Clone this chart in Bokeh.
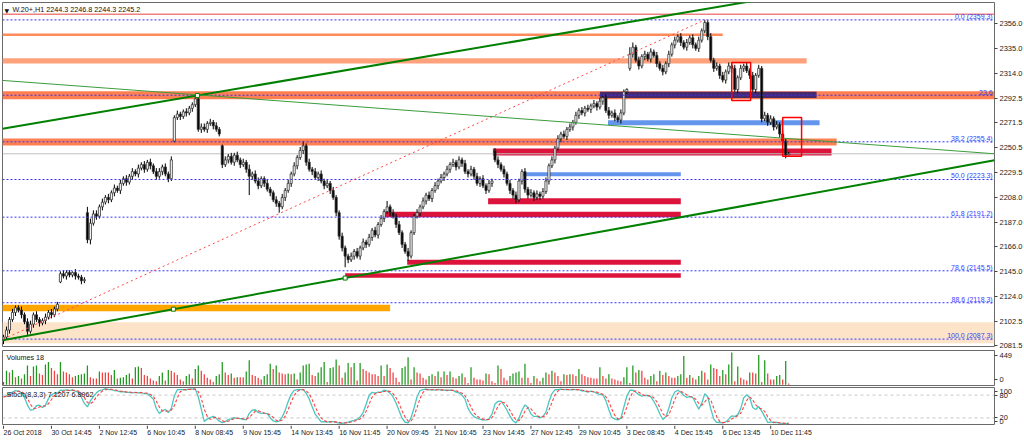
import numpy as np
from bokeh.plotting import figure
from bokeh.models import Range1d, FixedTicker, PrintfTickFormatter, Label, ColumnDataSource
from bokeh.layouts import column
from bokeh.embed import file_html
from bokeh.resources import INLINE
from bokeh.core.properties import value

# ------------------------------------------------------------------ data
# H1 closes, bar 0 = 26 Oct 2018
close = [
    2089, 2095, 2104, 2110, 2114, 2112, 2108, 2102, 2094, 2100,
    2108, 2104, 2101, 2103, 2106, 2110, 2108, 2113, 2117,
    2143, 2141, 2144, 2142, 2144, 2141, 2140, 2137, 2138,
    2172, 2186, 2194, 2192, 2200, 2204, 2208, 2206, 2212, 2216, 2214, 2220, 2224, 2221, 2226,
    2230, 2228, 2233, 2236, 2232, 2238, 2235, 2230, 2226, 2230, 2234, 2228, 2224, 2240,
    2276, 2279, 2277, 2281, 2280, 2284, 2287, 2292, 2266,
    2268, 2266, 2271, 2272, 2269, 2266, 2262, 2236,
    2240, 2243, 2238, 2244, 2240, 2236, 2238, 2232, 2226, 2228, 2222, 2218, 2224,
    2220, 2215, 2212, 2206, 2203, 2200, 2208, 2214, 2220, 2228, 2235, 2242, 2248, 2252,
    2238, 2232, 2230, 2225, 2228, 2222, 2218, 2220, 2214, 2208, 2195, 2175, 2165, 2158, 2155,
    2158, 2162, 2158, 2165, 2170, 2168, 2174, 2180, 2176, 2185, 2190, 2196, 2200, 2195, 2192,
    2185, 2178, 2168, 2162, 2158, 2178, 2192,
    2195, 2200, 2205, 2210, 2207, 2214, 2218, 2222, 2225, 2228, 2232, 2236, 2238, 2234, 2240,
    2237, 2230, 2228, 2232, 2226, 2220, 2224, 2218, 2214, 2220, 2222,
    2240, 2236, 2232, 2228, 2220, 2214, 2210, 2206, 2222, 2230, 2215, 2210, 2212, 2208, 2211,
    2209, 2213, 2222,
    2235, 2240, 2250, 2258, 2262, 2260, 2266, 2268, 2272, 2278, 2282, 2280, 2284, 2283, 2286,
    2288, 2285, 2290, 2293, 2282, 2278, 2280, 2276, 2274, 2280, 2298,
    2300, 2330, 2336, 2325, 2320, 2328, 2330, 2326, 2332, 2329, 2322, 2318, 2315, 2322, 2330,
    2338, 2342, 2345, 2340, 2336, 2340, 2344, 2338, 2335, 2342, 2350, 2357,
    2345, 2325, 2318, 2320, 2312, 2308, 2315, 2320, 2318, 2300, 2310, 2318, 2320, 2316, 2312,
    2300, 2312, 2318,
    2275, 2278, 2272, 2275, 2268, 2270, 2262, 2256, 2244.3, 2245.2,
]
first_open = 2086
gap_open = {19: 2136, 28: 2195, 57: 2256, 73: 2252, 164: 2248, 209: 2318}

up_wick = [
    2, 3, 2, 3, 2, 2, 3, 2, 3, 3,
    2, 3, 2, 2, 3, 2, 3, 2, 2,
    2, 3, 2, 2, 1, 3, 2, 2, 2,
    5, 4, 3, 3, 2, 3, 2, 3, 2, 3, 2, 3, 2, 3, 2, 3, 2, 3, 2, 3, 2, 3, 2, 3, 3, 2, 3, 2, 3,
    2,
    3, 2, 2, 3, 2, 2, 2.7,
    1,
    3, 3, 2, 3, 2, 3, 2,
    1,
    3, 2, 3, 2, 3, 2, 3, 2, 4, 2, 3, 3, 2,
    2, 3, 2, 2, 3, 2, 3, 2, 3, 2, 3, 2, 3, 4,
    2, 3, 2, 3, 2, 3, 2, 3, 2, 3, 2, 2, 3, 2, 2,
    3, 2, 3, 2, 3, 2, 3, 2, 3, 2, 3, 2, 5, 2, 3, 2, 3, 2, 2, 3, 2, 2,
    3, 2, 3, 2, 3, 2, 3, 2, 3, 2, 3, 2, 3, 2, 3, 2, 3, 2, 3, 2, 3, 2, 3, 2, 3, 2,
    2, 3, 2, 3, 2, 3, 2, 3, 2, 2, 3, 2, 3, 2, 3, 2, 3, 3,
    2, 3, 2, 3, 2, 3, 2, 3, 2, 3, 2, 3, 2, 3, 2, 3, 2, 3, 2, 3, 3, 2, 3, 2, 3, 2,
    1, 6, 4, 2, 3, 2, 3, 2, 3, 2, 3, 2, 3, 2, 3, 2, 3, 2, 3, 2, 3, 2, 3, 2, 3, 2, 2.3,
    2, 3, 2, 3, 2, 3, 2, 3, 2, 3, 2, 3, 2, 3, 2, 3, 2, 3,
    2, 3, 2, 3, 2, 3, 2, 3, 2, 1.6,
]
down_wick = [
    3, 2, 3, 2, 3, 2, 3, 2, 3, 2,
    3, 2, 3, 2, 3, 2, 3, 2, 2,
    1, 2, 3, 2, 2, 3, 2, 3, 2,
    3, 4, 2, 3, 2, 3, 2, 3, 2, 3, 2, 3, 2, 3, 2, 3, 2, 3, 2, 3, 2, 3, 2, 3, 2, 3, 2, 3, 2,
    1,
    2, 3, 2, 3, 2, 3, 2,
    2,
    3, 2, 3, 2, 3, 2, 2,
    3,
    2, 3, 2, 3, 2, 3, 2, 3, 16, 3, 2, 3, 2,
    3, 2, 3, 2, 3, 5, 2, 3, 2, 3, 2, 3, 2, 3,
    3, 2, 3, 2, 3, 2, 3, 2, 3, 2, 3, 3, 3, 9.5, 3,
    2, 3, 2, 3, 2, 3, 2, 3, 2, 3, 2, 3, 2, 3, 2, 3, 2, 3, 2, 4, 2, 2,
    2, 3, 2, 3, 2, 3, 2, 3, 2, 3, 2, 3, 2, 3, 2, 3, 2, 3, 2, 3, 2, 3, 2, 3, 2, 3,
    2, 3, 2, 3, 2, 3, 3, 3, 2, 3, 3, 3, 2, 3, 2, 3, 2, 2,
    3, 2, 3, 2, 3, 2, 3, 2, 3, 2, 3, 2, 3, 2, 3, 2, 3, 2, 3, 2, 3, 2, 3, 2, 3, 2,
    2, 2, 3, 2, 3, 2, 3, 2, 3, 2, 3, 2, 3, 2, 3, 2, 3, 2, 3, 2, 3, 2, 3, 2, 3, 2, 2,
    3, 2, 3, 2, 3, 2, 3, 2, 4, 2, 3, 2, 3, 2, 3, 2, 3, 2,
    3, 2, 3, 2, 3, 2, 3, 2, 3, 0,
]

volume = [
    39, 195, 171, 205, 107, 122, 88, 146, 268, 122,
    254, 268, 156, 137, 283, 317, 234, 195, 146, 317,
    185, 171, 146, 107, 122, 137, 146, 156, 268, 107,
    88, 88, 185, 171, 171, 171, 137, 205, 88, 98,
    107, 137, 156, 88, 244, 254, 234, 137, 122, 88,
    59, 49, 122, 171, 59, 205, 195, 171, 137, 73,
    49, 122, 146, 88, 220, 268, 195, 146, 98, 73,
    39, 122, 146, 317, 171, 137, 156, 98, 107, 107,
    107, 185, 342, 137, 122, 98, 73, 122, 146, 293,
    220, 268, 171, 156, 146, 156, 146, 156, 73, 171,
    268, 283, 293, 137, 122, 171, 244, 317, 39, 234,
    244, 351, 268,
    98, 171, 303, 244, 303, 59, 303, 220, 195, 171,
    146, 146, 122, 268, 122, 283, 234, 171, 98, 39,
    234, 254, 381, 73, 244, 171, 156, 98, 73, 122,
    146, 122, 185, 107, 185, 137, 185, 107, 88, 122,
    156, 107, 24, 244, 98, 73, 73, 59, 156, 146,
    49, 24, 268, 220, 98, 59, 122, 156, 171, 185,
    98, 293, 98, 24, 122, 88, 49, 98, 171, 146,
    195, 171, 122, 49, 146, 137, 146, 146, 122, 220,
    146, 122, 107, 98, 88, 88, 244, 122, 88, 146,
    88, 73, 59, 49, 107, 244, 24, 268, 171, 205,
    195, 98, 73, 122, 146, 49, 195, 137, 171, 122,
    98, 98, 122, 146,
    400, 98, 137, 98, 73, 122, 195, 171, 73, 283,
    234, 220, 122, 205, 146, 283, 449, 49, 254, 98,
    73, 59, 171, 171, 156, 415, 39, 342, 156, 73,
    73, 122, 137, 73, 332, 18,
]

time_tick_bars = [0, 16, 32, 48, 64, 80, 96, 112, 128, 144, 160, 176, 192, 208, 224, 240, 256]
time_tick_labels = ["26 Oct 2018", "30 Oct 14:45", "2 Nov 12:45", "6 Nov 10:45", "8 Nov 08:45",
                    "9 Nov 15:45", "14 Nov 13:45", "16 Nov 11:45", "20 Nov 09:45", "21 Nov 16:45",
                    "23 Nov 14:45", "27 Nov 12:45", "29 Nov 10:45", "3 Dec 08:45", "4 Dec 15:45",
                    "6 Dec 13:45", "10 Dec 11:45"]
price_ticks = [2081.5, 2102.5, 2124.0, 2145.0, 2166.0, 2187.0, 2208.0, 2229.5, 2250.5,
               2271.5, 2292.5, 2314.0, 2335.0, 2356.0]
fib_levels = [2359.3, 2295.1, 2255.4, 2223.3, 2191.2, 2145.5, 2118.3, 2087.3]
fib_texts = ["0.0 (2359.3)", "23.6", "38.2 (2255.4)", "50.0 (2223.3)", "61.8 (2191.2)",
             "78.6 (2145.5)", "88.6 (2118.3)", "100.0 (2087.3)"]
last_price = 2245.2
top_line_price = 2364.0

X_MIN, X_MAX = -0.33, 330.67
# zones: left bar, right bar, low price, high price
zone_x0 = [X_MIN, X_MIN, X_MIN, X_MIN, X_MIN, 199.0, 201.7, X_MIN, 163.3, 173.0, 161.7, 127.3, 134.7, 114.0]
zone_x1 = [X_MAX, 129.0, 240.0, 268.0, X_MAX, 271.3, 272.3, 278.0, 276.3, 226.0, 226.0, 226.0, 226.0, 226.0]
zone_lo = [2083.8, 2111.0, 2345.6, 2322.2, 2291.6, 2292.8, 2269.5, 2252.3, 2243.8, 2226.0, 2202.1, 2191.1, 2150.6, 2139.6]
zone_hi = [2101.7, 2116.6, 2347.7, 2326.5, 2298.4, 2298.0, 2273.7, 2258.3, 2249.8, 2229.4, 2207.3, 2195.8, 2154.9, 2143.4]
zone_colors = ["#fde4c8", "#ffa500", "#ff8a5c", "#ffa27c", "#ff7f50", "#482a6b", "#6495ed", "#ff7f50",
               "#dc143c", "#6495ed", "#dc143c", "#dc143c", "#dc143c", "#dc143c"]

# trend lines (bar, price)
trend_x0 = [X_MIN, X_MIN, X_MIN]
trend_y0 = [2266.6, 2307.7, 2086.4]
trend_x1 = [250.0, X_MAX, X_MAX]
trend_y1 = [2375.4, 2245.2, 2239.6]
trend_width = [2, 1, 2]
trend_color = ["#008000", "#3c9c3c", "#008000"]
anchor_x = [56.7, 114.0, 64.7]
anchor_y = [2112.8, 2139.3, 2294.9]
fib_ray = ([0, 234], [2087.3, 2359.3])

rect_x0 = [243.0, 260.0]
rect_x1 = [249.3, 266.3]
rect_lo = [2290.7, 2243.0]
rect_hi = [2323.0, 2276.2]

# ------------------------------------------------------------------ derived
n = min(len(close), len(up_wick), len(down_wick), len(volume))
close = close[:n]
opens = []
for i in range(n):
    if i == 0:
        opens.append(first_open)
    else:
        opens.append(gap_open.get(i, close[i - 1]))
highs = [max(opens[i], close[i]) + up_wick[i] for i in range(n)]
lows = [min(opens[i], close[i]) - down_wick[i] for i in range(n)]
idx = list(range(n))

H = np.array(highs); L = np.array(lows); C = np.array(close)
ll = np.array([L[max(0, i - 7):i + 1].min() for i in range(n)])
hh = np.array([H[max(0, i - 7):i + 1].max() for i in range(n)])
num = C - ll
den = hh - ll
st_main = np.array([100 * num[max(0, i - 2):i + 1].sum() / max(den[max(0, i - 2):i + 1].sum(), 1e-9) for i in range(n)])
st_sig = np.array([st_main[max(0, i - 2):i + 1].mean() for i in range(n)])

FONT = value("Liberation Sans")
FW = 992
xr = Range1d(X_MIN, X_MAX)
OUT = "#6a6a6a"


def style_axis(ax):
    ax.major_label_text_font = "Liberation Sans"
    ax.major_label_text_font_size = "7.5px"
    ax.major_label_text_color = "#222222"
    ax.major_tick_out = 3
    ax.major_tick_in = 0
    ax.major_tick_line_color = "#444444"
    ax.minor_tick_line_color = None
    ax.axis_line_color = None
    ax.major_label_standoff = 2


def base_fig(h, yr, bt, bb):
    f = figure(frame_width=FW, frame_height=h, x_range=xr, y_range=yr,
               output_backend="svg", toolbar_location=None,
               x_axis_location=None, y_axis_location="right",
               min_border_left=2, min_border_right=0, min_border_top=bt, min_border_bottom=bb)
    f.grid.visible = False
    f.outline_line_color = OUT
    f.outline_line_width = 1
    f.background_fill_color = "white"
    f.border_fill_color = "white"
    return f


# ------------------------------------------------------------------ main price panel
main = base_fig(344, Range1d(2081.0, 2374.1), 2, 4)
ya = main.yaxis[0]
ya.ticker = FixedTicker(ticks=price_ticks)
ya.formatter = PrintfTickFormatter(format="%.1f")
style_axis(ya)

main.quad(left=zone_x0, right=zone_x1, bottom=zone_lo, top=zone_hi, fill_color=zone_colors,
          line_color=None)
main.segment(x0=[X_MIN], x1=[X_MAX], y0=[top_line_price], y1=[top_line_price], line_color="#f08080",
             line_width=1.5)
main.segment(x0=[X_MIN], x1=[X_MAX], y0=[last_price], y1=[last_price], line_color="#c0c0c0", line_width=1)

src = ColumnDataSource(dict(
    x=idx, h=highs, l=lows,
    top=[max(opens[i], close[i]) for i in range(n)],
    bottom=[min(opens[i], close[i]) for i in range(n)],
    fill=["white" if close[i] >= opens[i] else "black" for i in range(n)],
))
main.segment(x0="x", x1="x", y0="h", y1="l", source=src, line_color="black", line_width=1)
main.vbar(x="x", width=0.7, top="top", bottom="bottom", fill_color="fill", line_color="#303030",
          line_width=0.8, source=src)

main.segment(x0=[X_MIN] * len(fib_levels), x1=[X_MAX] * len(fib_levels), y0=fib_levels, y1=fib_levels,
             line_color="#3434ff", line_dash="2 2", line_width=1)
main.line(x=fib_ray[0], y=fib_ray[1], line_color="#ff4a4a", line_dash="2 3", line_width=1)

main.segment(x0=trend_x0, y0=trend_y0, x1=trend_x1, y1=trend_y1, line_color=trend_color,
             line_width=trend_width)
main.scatter(x=anchor_x, y=anchor_y, marker="square", size=4, fill_color="white", line_color="#008000",
             line_width=1)

main.quad(left=rect_x0, right=rect_x1, bottom=rect_lo, top=rect_hi, fill_color=None,
          line_color="#ff0000", line_width=1.5)

main.text(x=[X_MAX - 0.6] * len(fib_levels), y=fib_levels, text=fib_texts, text_align="right",
          text_baseline="bottom", y_offset=0, text_font=FONT, text_font_size="7px",
          text_color="#3a3aff")

main.text(x=[0.3], y=[2374.1], text=["\u25bc"], text_baseline="top", y_offset=4, text_font=value("DejaVu Sans"),
          text_font_size="6px", text_color="#111111")
main.text(x=[3.0], y=[2374.1], text=["W.20+,H1  2244.3 2246.8 2244.3 2245.2"], text_baseline="top",
          y_offset=2, text_font=FONT, text_font_size="7.2px", text_color="#111111")

main.add_layout(Label(x=X_MAX, y=last_price, text="2245.2", text_align="left", text_baseline="middle",
                      x_offset=1, text_font="Liberation Sans", text_font_size="7.5px",
                      text_color="white", background_fill_color="black"))

# ------------------------------------------------------------------ volumes
vol = base_fig(35, Range1d(-9, 476), 0, 1)
va = vol.yaxis[0]
va.ticker = FixedTicker(ticks=[70, 407])
va.major_label_overrides = {70: "0", 407: "449"}
style_axis(va)
vcol = ["#d92020"] + ["#1e9a1e" if volume[i] > volume[i - 1] else "#f04040" for i in range(1, n)]
vol.vbar(x=idx, width=0.42, top=volume[:n], bottom=0, fill_color=vcol, line_color=None)
vol.text(x=[1.0], y=[476], text=["Volumes 18"], text_baseline="top", y_offset=2, text_font=FONT,
         text_font_size="7.2px", text_color="#111111")

# ------------------------------------------------------------------ stochastic
sto = base_fig(38, Range1d(0, 100), 1, 0)
sa = sto.yaxis[0]
sa.ticker = FixedTicker(ticks=[10.5, 21, 79.7, 90])
sa.major_label_overrides = {10.5: "0", 21: "20", 79.7: "80", 90: "100"}
style_axis(sa)
sto.segment(x0=[X_MIN, X_MIN], x1=[X_MAX, X_MAX], y0=[20, 80], y1=[20, 80], line_color="#c8c8c8",
            line_dash="3 3", line_width=1)
sto.line(x=idx, y=st_main, line_color="#4cc6c0", line_width=1.3)
sto.line(x=idx, y=st_sig, line_color="#ff4040", line_dash="3 2", line_width=1.1)
sto.text(x=[1.0], y=[100], text=["Stoch(8,3,3) 7.1207 6.8962"], text_baseline="top", y_offset=2,
         text_font=FONT, text_font_size="7.2px", text_color="#111111")

# ------------------------------------------------------------------ time labels
strip = figure(frame_width=FW, frame_height=15, x_range=xr, y_range=Range1d(0, 1),
               output_backend="svg", toolbar_location=None, x_axis_location=None, y_axis_location=None,
               min_border_left=2, min_border_right=0, min_border_top=0, min_border_bottom=0)
strip.grid.visible = False
strip.outline_line_color = None
strip.background_fill_color = "white"
strip.border_fill_color = "white"
strip.segment(x0=time_tick_bars, x1=time_tick_bars, y0=[1.0] * len(time_tick_bars),
              y1=[0.78] * len(time_tick_bars), line_color="#444444", line_width=1)
strip.text(x=time_tick_bars, y=[0.55] * len(time_tick_bars), text=time_tick_labels, text_align="left",
           text_baseline="middle", x_offset=0, text_font=FONT, text_font_size="7px", text_color="#222222")

layout = column(main, vol, sto, strip, spacing=0)
open("out.html", "w").write(file_html(layout, INLINE))
